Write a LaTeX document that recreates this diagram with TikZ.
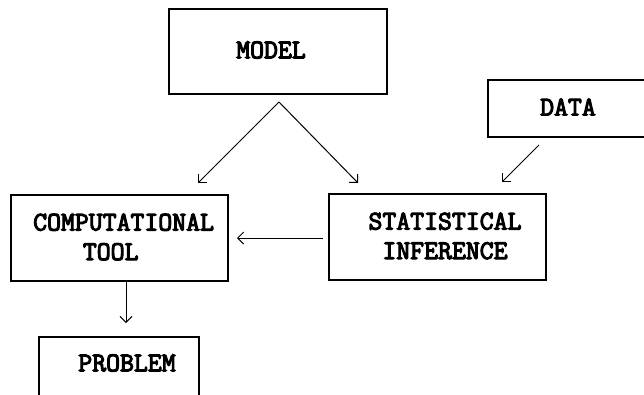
\documentclass[tikz,border=0pt]{standalone}
\usepackage{fontspec}
\setmonofont{Latin Modern Mono}[AutoFakeBold=4]
\usetikzlibrary{arrows.meta}
\begin{document}
\begin{tikzpicture}[x=1pt,y=-1pt,
  box/.style={draw, line width=1.4pt, rectangle, inner sep=0pt, outer sep=0pt},
  lbl/.style={font=\ttfamily\bfseries\fontsize{27}{29.5}\selectfont, inner sep=0pt},
  link/.style={line width=1pt, -{Straight Barb[length=6pt,width=12pt]}}]
\useasboundingbox (0,0) rectangle (644,394);
\clip (0,0) rectangle (644,394);

% boxes
\node[box, minimum width=218pt, minimum height=85pt] (model) at (278,51.5) {};
\node[box, minimum width=172pt, minimum height=57pt] (data) at (574,108.5) {};
\node[box, minimum width=217pt, minimum height=86pt] (comp) at (119.5,238) {};
\node[box, minimum width=217pt, minimum height=86pt] (stat) at (437.5,237) {};
\node[box, minimum width=160pt, minimum height=73pt] (prob) at (119,373.5) {};

% labels
\node[lbl] (modeltxt) at (271,50) {MODEL};
\node[lbl] (datatxt) at (568,107) {DATA};
\node[lbl, anchor=west, align=left] (comptxt) at (33,237) {COMPUTATIONAL\\\hspace*{1.84em}TOOL};
\node[lbl, align=center] (stattxt) at (445,236) {STATISTICAL\\INFERENCE};
\node[lbl] (probtxt) at (127,363) {PROBLEM};

% connector end points
\coordinate (split) at (279,102);
\coordinate (tocomp) at (198,183);
\coordinate (tostat) at (358,183);
\coordinate (datafrom) at (539,145);
\coordinate (datato) at (502,182);
\coordinate (statfrom) at (323,238);
\coordinate (compto) at (237,238);
\coordinate (compfrom) at (126,281);
\coordinate (probto) at (126,323);

% connectors
\draw[link] (split) -- (tocomp);
\draw[link] (split) -- (tostat);
\draw[link] (datafrom) -- (datato);
\draw[link] (statfrom) -- (compto);
\draw[link] (compfrom) -- (probto);
\end{tikzpicture}
\end{document}
